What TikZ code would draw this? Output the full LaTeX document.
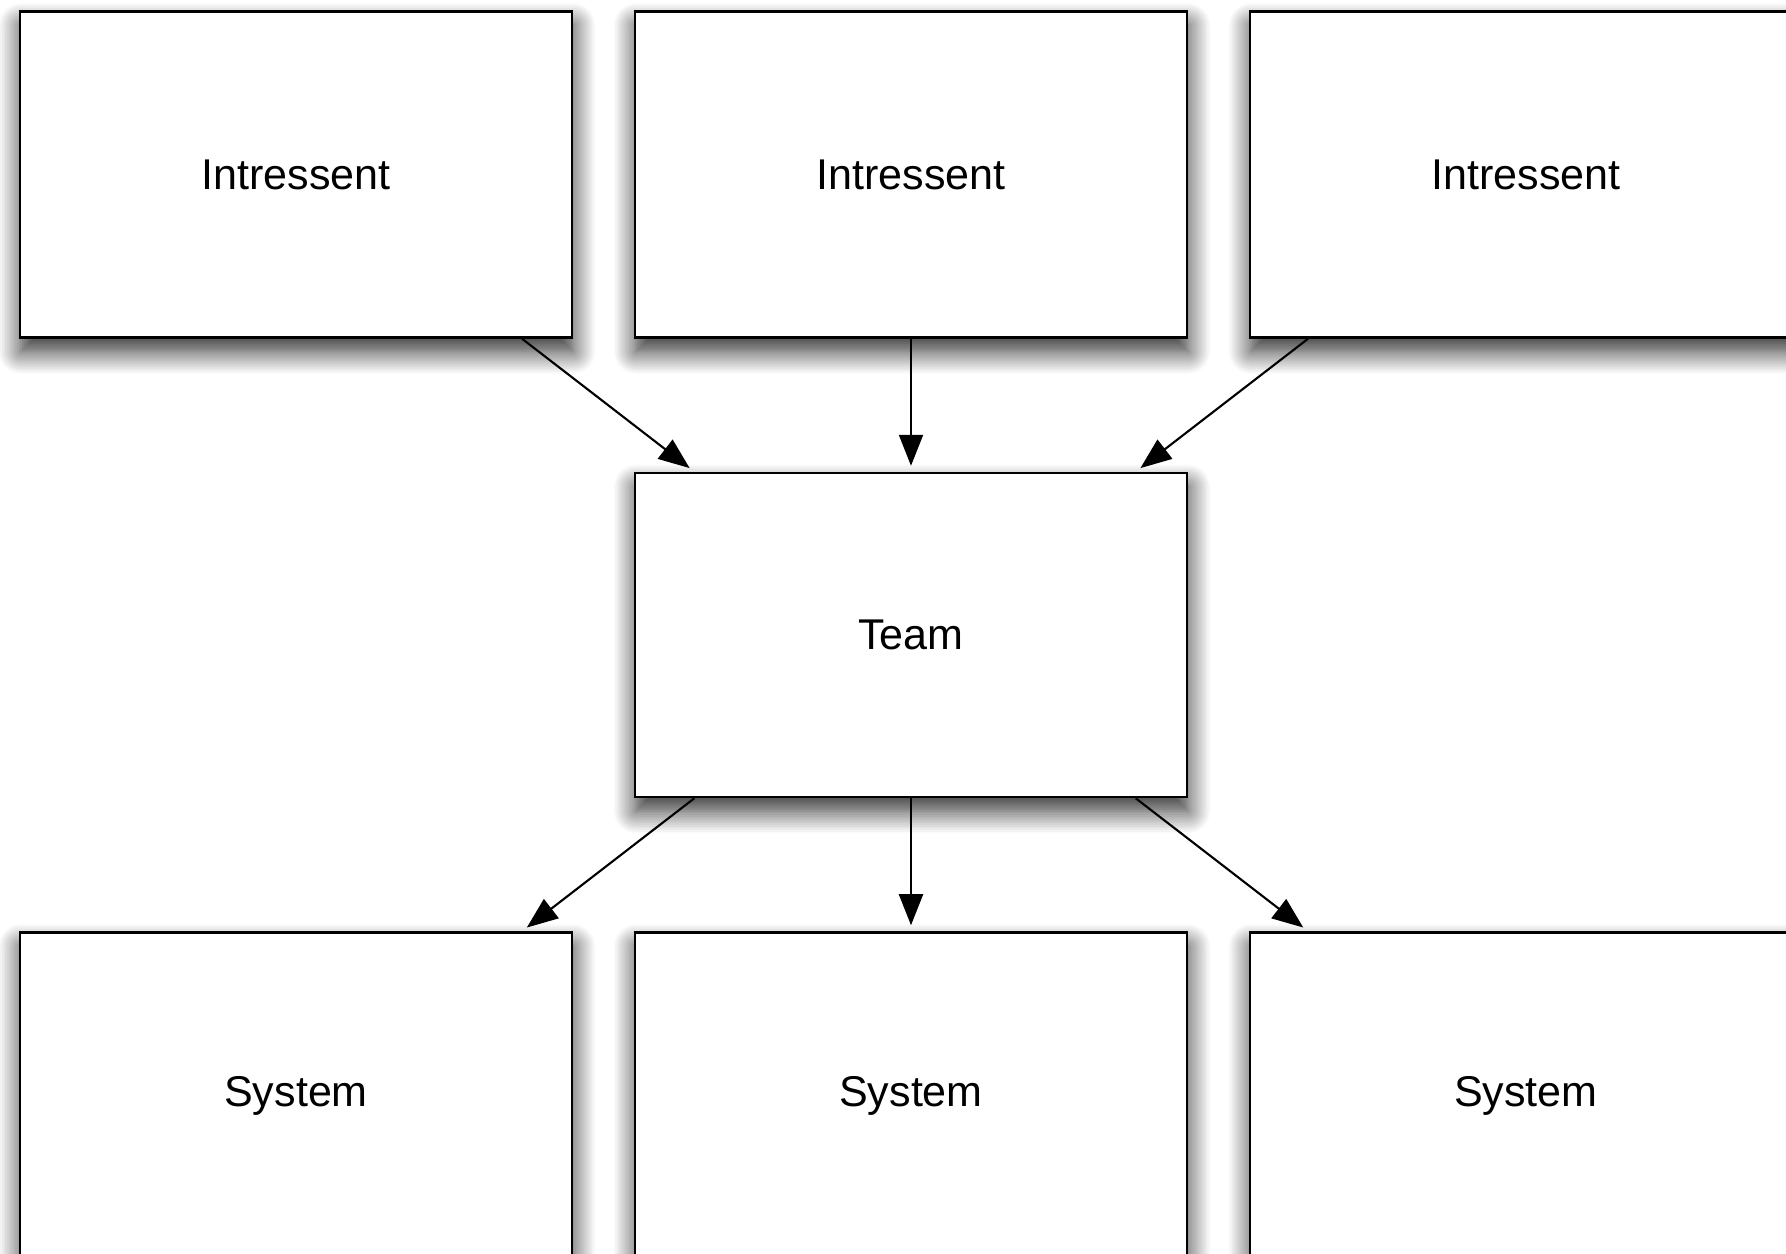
\documentclass[tikz,border=0pt]{standalone}
\usepackage{fontspec}
\setmainfont{Liberation Sans}
\usetikzlibrary{positioning,arrows.meta,shadows.blur}

\tikzset{
  box/.style={draw=black,line width=1.4pt,fill=white,minimum width=11.04cm,
    minimum height=6.52cm,inner sep=0pt,font=\fontsize{24.5}{29}\selectfont,
    blur shadow={shadow xshift=0.02cm,shadow yshift=-0.28cm,
      shadow blur radius=0.45cm,shadow blur steps=14,shadow opacity=85}},
  link/.style={line width=1.2pt,-{Triangle[length=6.2mm,width=4.8mm]},shorten >=1.2mm}
}

\begin{document}
\begin{tikzpicture}
  \useasboundingbox (0,0) rectangle (35.72,25.08);
  \node[box,minimum height=6.48cm] (team) at (18.22,12.38) {Team};
  \node[box,above=2.66cm of team] (int2) {Intressent};
  \node[box,left=1.21cm of int2] (int1) {Intressent};
  \node[box,right=1.21cm of int2] (int3) {Intressent};
  \node[box,below=2.66cm of team] (sys2) {System};
  \node[box,left=1.21cm of sys2] (sys1) {System};
  \node[box,right=1.21cm of sys2] (sys3) {System};
  \draw[link] (int1.-36.5) -- (team.143.5);
  \draw[link] (int2) -- (team);
  \draw[link] (int3.-143.5) -- (team.36.5);
  \draw[link] (team.-143.5) -- (sys1.36.5);
  \draw[link] (team) -- (sys2);
  \draw[link] (team.-36.5) -- (sys3.143.5);
\end{tikzpicture}
\end{document}
